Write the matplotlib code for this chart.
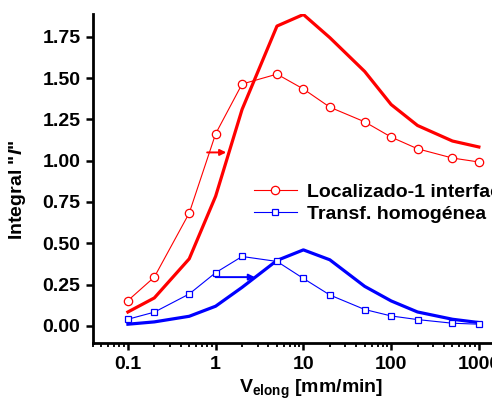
import matplotlib
matplotlib.use("Agg")
import matplotlib.pyplot as plt
from matplotlib.ticker import FixedLocator, FixedFormatter, LogLocator, NullFormatter

plt.rcParams["font.family"] = ["Liberation Sans", "DejaVu Sans"]
plt.rcParams["font.weight"] = "bold"
plt.rcParams["mathtext.fontset"] = "custom"
plt.rcParams["mathtext.rm"] = "Liberation Sans:bold"
plt.rcParams["mathtext.bf"] = "Liberation Sans:bold"
plt.rcParams["mathtext.it"] = "Liberation Sans:bold:italic"

# elongation speed [mm/min]
v_elong = [0.1, 0.2, 0.5, 1, 2, 5, 10, 20, 50, 100, 200, 500, 1000]

# Localizado-1 interface
loc_points = [0.153, 0.295, 0.683, 1.163, 1.464, 1.524, 1.434, 1.324, 1.235, 1.143, 1.072, 1.016, 0.992]
loc_curve = [0.084, 0.169, 0.406, 0.785, 1.31, 1.815, 1.885, 1.745, 1.54, 1.34, 1.213, 1.119, 1.083]

# Transf. homogenea
hom_points = [0.040, 0.083, 0.193, 0.322, 0.420, 0.390, 0.287, 0.187, 0.099, 0.060, 0.038, 0.016, 0.010]
hom_curve = [0.010, 0.024, 0.058, 0.119, 0.233, 0.396, 0.460, 0.400, 0.239, 0.151, 0.084, 0.040, 0.020]

# shift arrows (x start, x end, y)
loc_arrow = (0.80, 1.32, 1.05)
hom_arrow = (1.0, 2.8, 0.295)

tick_vals = [0.1, 1, 10, 100, 1000]
tick_labels = ["0.1", "1", "10", "100", "1000"]

fig = plt.figure(figsize=(4.92, 4.05), dpi=100)
ax = fig.add_axes([0.189, 0.153, 0.838, 0.812])

red = "#ff0000"
blue = "#0000ff"
fs = 14

ax.plot(v_elong, loc_curve, color=red, lw=2.3, zorder=3)
ax.plot(v_elong, hom_curve, color=blue, lw=2.3, zorder=3)
ax.plot(v_elong, loc_points, color=red, lw=0.8, marker="o", ms=6,
        mfc="white", mec=red, mew=0.9, label="Localizado-1 interface", zorder=4)
ax.plot(v_elong, hom_points, color=blue, lw=0.8, marker="s", ms=5,
        mfc="white", mec=blue, mew=0.9, label="Transf. homogénea", zorder=4)

for (x0, x1, y), c in [(loc_arrow, red), (hom_arrow, blue)]:
    ax.annotate("", xy=(x1, y), xytext=(x0, y),
                arrowprops=dict(arrowstyle="-|>", color=c, lw=1.4,
                                mutation_scale=9, shrinkA=0, shrinkB=0))

ax.set_xscale("log")
ax.set_xlim(0.04, 2000)
ax.set_ylim(-0.104, 1.887)
ax.xaxis.set_major_locator(FixedLocator(tick_vals))
ax.xaxis.set_major_formatter(FixedFormatter(tick_labels))
ax.xaxis.set_minor_locator(LogLocator(base=10, subs=range(2, 10), numticks=20))
ax.xaxis.set_minor_formatter(NullFormatter())
ax.set_yticks([0.0, 0.25, 0.5, 0.75, 1.0, 1.25, 1.5, 1.75])
ax.set_yticklabels(["0.00", "0.25", "0.50", "0.75", "1.00", "1.25", "1.50", "1.75"])

for side in ["top", "right"]:
    ax.spines[side].set_visible(False)
for side in ["left", "bottom"]:
    ax.spines[side].set_linewidth(2)

ax.tick_params(axis="both", which="major", direction="out", length=5, width=1.8,
               labelsize=fs, pad=4)
ax.tick_params(axis="x", which="minor", direction="out", length=3, width=1.3)
for lab in ax.get_xticklabels() + ax.get_yticklabels():
    lab.set_fontweight("bold")

ax.set_xlabel(r"V$_{\mathrm{elong}}$ [mm/min]", fontsize=fs, fontweight="bold")
ax.xaxis.set_label_coords(0.529, -0.105)
ax.set_ylabel(r'Integral "$I$"', fontsize=fs, fontweight="bold")
ax.yaxis.set_label_coords(-0.158, 0.465)

fig.legend(loc="center left", bbox_to_anchor=(254 / 492, 1 - 203 / 405),
           frameon=False, handlelength=2.2, handletextpad=0.55,
           labelspacing=0.25, borderpad=0, borderaxespad=0,
           prop={"weight": "bold", "size": fs})

fig.savefig("out.png", dpi=100)
